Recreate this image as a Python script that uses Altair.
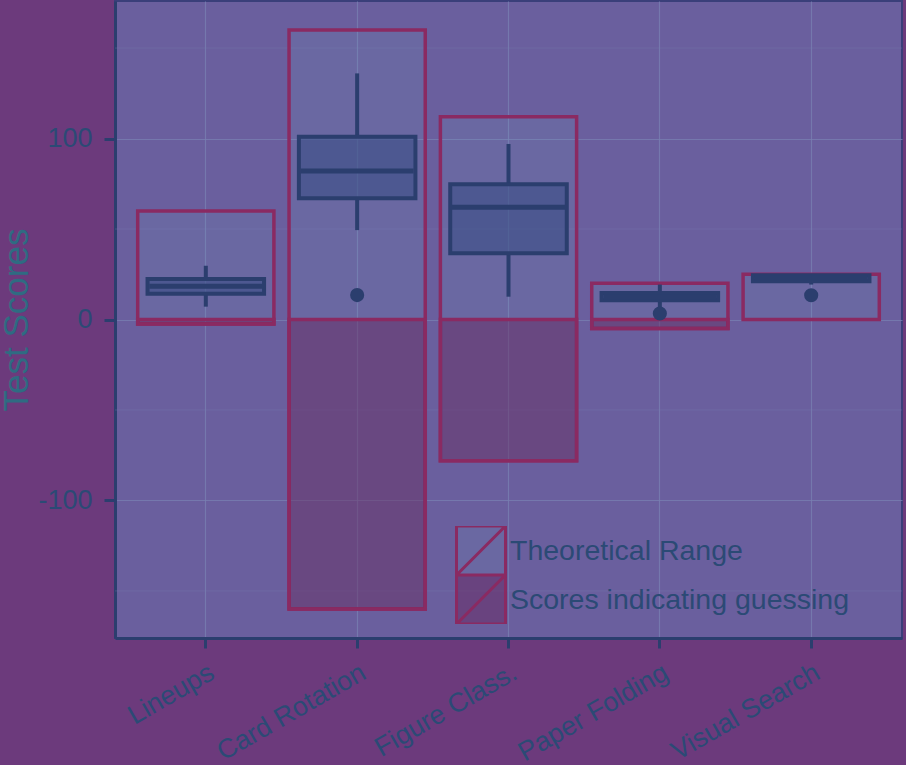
import altair as alt
import pandas as pd

# ---------------- data ----------------
categories = ["Lineups", "Card Rotation", "Figure Class.", "Paper Folding", "Visual Search"]

# theoretical score range per test
theo_low = [-2.5, -160, -78, -5, 0]
theo_high = [60, 160, 112, 20, 25]

# range of scores indicating guessing
guess_cats = ["Lineups", "Card Rotation", "Figure Class.", "Paper Folding"]
guess_low = [-2.5, -160, -78, -5]
guess_high = [0, 0, 0, 0]

# box plot statistics
q1 = [14.2, 67, 36.6, 10.7, 21.2]
median = [18.4, 82, 62, 12.5, 23]
q3 = [22.4, 101, 74.7, 14.6, 24.5]
whisk_lo = [7.1, 49.4, 12.6, 6, 19.3]
whisk_hi = [29.7, 136, 97, 19.3, 24.5]

# outliers
out_cats = ["Card Rotation", "Paper Folding", "Visual Search"]
out_vals = [13.5, 3.3, 13.4]

# axis ticks
y_major = [-100, 0, 100]
y_minor = [-150, -50, 50, 150]
y_domain = [-176, 176]

legend_labels = ["Theoretical Range", "Scores indicating guessing"]

# ---------------- styling ----------------
FONT = "Liberation Sans"
NAVY = "#2b3e6e"
TEXT = "#2b4a75"
CRIMSON = "#8a2a62"
BG = "#6c3a7c"
PANEL = "#6a5f9e"
GRID = "#7a80b2"

rect_df = pd.DataFrame({
    "category": categories + guess_cats,
    "type": [legend_labels[0]] * len(categories) + [legend_labels[1]] * len(guess_cats),
    "lo": theo_low + guess_low,
    "hi": theo_high + guess_high,
})
box_df = pd.DataFrame({
    "category": categories, "q1": q1, "median": median, "q3": q3,
    "wlo": whisk_lo, "whi": whisk_hi,
})
out_df = pd.DataFrame({"category": out_cats, "value": out_vals})
minor_df = pd.DataFrame({"v": y_minor})

X = alt.X(
    "category:N", sort=categories,
    scale=alt.Scale(type="band", domain=categories, paddingInner=0, paddingOuter=0.1),
    axis=alt.Axis(
        title=None, labelAngle=-30, labelAlign="right", labelBaseline="top",
        labelFontSize=27, labelFont=FONT, labelColor=TEXT, labelPadding=11,
        tickSize=10, tickWidth=3, tickColor=NAVY,
        domainColor=NAVY, domainWidth=3,
        grid=True, gridColor=GRID, gridWidth=1.2, gridOpacity=0.75,
    ),
)


def Y(field):
    return alt.Y(
        field + ":Q",
        scale=alt.Scale(domain=y_domain, nice=False, zero=False),
        axis=alt.Axis(
            title="Test Scores", values=y_major, labelExpr="'' + datum.value",
            labelFontSize=27, labelFont=FONT, labelColor=TEXT, labelPadding=12,
            tickSize=11, tickWidth=3, tickColor=NAVY,
            domainColor=NAVY, domainWidth=3,
            grid=True, gridColor=GRID, gridWidth=1.2, gridOpacity=0.75,
            titleFontSize=35, titleFont=FONT, titleFontWeight="normal",
            titleColor="#2f6b82", titlePadding=3,
        ),
    )


minor = alt.Chart(minor_df).mark_rule(color=GRID, strokeWidth=0.7, opacity=0.45).encode(y=Y("v"))

rects = alt.Chart(rect_df).mark_bar(
    stroke=CRIMSON, strokeWidth=3.5, width=alt.RelativeBandSize(0.9)
).encode(
    x=X, y=Y("lo"), y2="hi",
    fill=alt.Fill(
        "type:N", sort=legend_labels,
        scale=alt.Scale(domain=legend_labels,
                        range=["rgba(110,190,205,0.10)", "rgba(105,25,80,0.40)"]),
        legend=alt.Legend(
            title=None, orient="none", legendX=340, legendY=525,
            symbolType="M-1,-1H1V1H-1Z M-1,1L1,-1", symbolSize=2400,
            symbolStrokeColor=CRIMSON, symbolStrokeWidth=3,
            labelFontSize=28.5, labelFont=FONT, labelColor=TEXT,
            labelOffset=3, labelLimit=0, rowPadding=0, padding=0,
            clipHeight=49,
        ),
    ),
)

whisk_lo_l = alt.Chart(box_df).mark_rule(color=NAVY, strokeWidth=4).encode(
    x=X, y=Y("wlo"), y2="q1")
whisk_hi_l = alt.Chart(box_df).mark_rule(color=NAVY, strokeWidth=4).encode(
    x=X, y=Y("q3"), y2="whi")

boxes = alt.Chart(box_df).mark_bar(
    width=alt.RelativeBandSize(0.77), fill="#3a4f86", fillOpacity=0.6,
    stroke=NAVY, strokeWidth=4
).encode(x=X, y=Y("q1"), y2="q3")

medians = alt.Chart(box_df).mark_tick(
    color=NAVY, thickness=5, size=113, opacity=1
).encode(x=X, y=Y("median"))

outliers = alt.Chart(out_df).mark_circle(
    color=NAVY, size=200, opacity=1
).encode(x=X, y=Y("value"))

chart = alt.layer(
    minor, rects, whisk_lo_l, whisk_hi_l, boxes, medians, outliers
).properties(
    width=787, height=637,
    background=BG,
    autosize=alt.AutoSizeParams(type="none"),
    padding={"left": 115, "top": 1, "right": 4, "bottom": 127},
).configure_view(
    fill=PANEL, stroke="#3a3f7a", strokeWidth=2
)

chart.save("out.html", embed_options={"renderer": "svg", "actions": False})
